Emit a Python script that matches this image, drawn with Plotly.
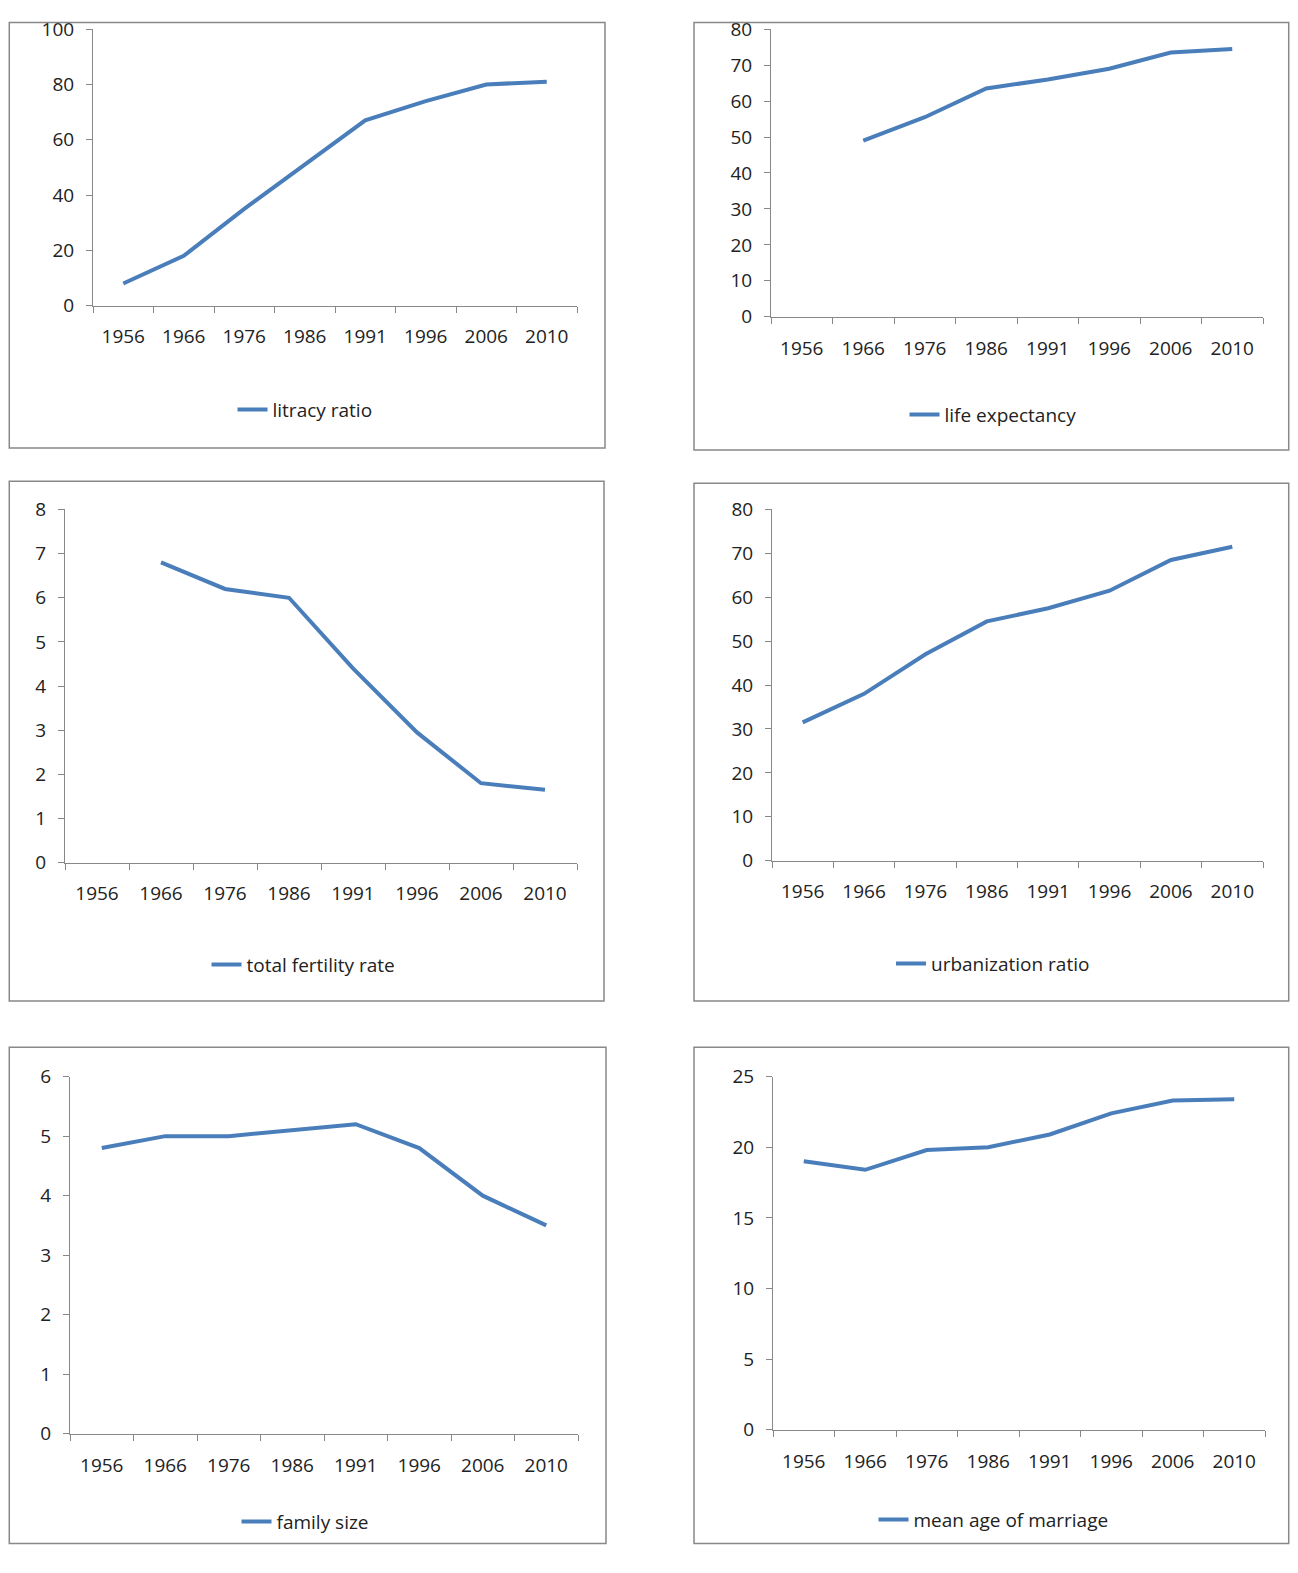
import plotly.graph_objs as go

years = ["1956", "1966", "1976", "1986", "1991", "1996", "2006", "2010"]

litracy = [8, 18, 35, 51, 67, 74, 80, 81]
life_exp = [None, 49, 55.5, 63.5, 66, 69, 73.5, 74.5]
fertility = [None, 6.8, 6.2, 6.0, 4.4, 2.95, 1.8, 1.65]
urban = [31.5, 38, 47, 54.5, 57.5, 61.5, 68.5, 71.5]
family = [4.8, 5.0, 5.0, 5.1, 5.2, 4.8, 4.0, 3.5]
marriage = [19, 18.4, 19.8, 20, 20.9, 22.4, 23.3, 23.4]

names = ["litracy ratio", "life expectancy", "total fertility rate",
         "urbanization ratio", "family size", "mean age of marriage"]
series = [litracy, life_exp, fertility, urban, family, marriage]
ymax = [100, 80, 8, 80, 6, 25]
ydtick = [20, 10, 1, 10, 1, 5]

OFF = 8
W, H = 1282, 1550


def fx(p):
    return (p - OFF) / W


def fy(p):
    # compensate for the vertical offset/squash seen in the rendered page
    p = 5 + (p - 22) / 0.97
    return 1 - (p - OFF) / 1557


# plot areas in pixels: x0, x1, ytop, ybottom
areas = [(93, 577, 33, 307), (771, 1263, 33, 318),
         (65, 577, 509, 859), (772, 1263, 509, 857),
         (70, 578, 1071, 1425), (773, 1265, 1071, 1421)]
boxes = [(5, 605, 5, 448), (694, 1292, 5, 450),
         (3, 604, 481, 996), (694, 1292, 483, 996),
         (5, 606, 1042, 1568), (694, 1293, 1042, 1568)]
legend_y = [410, 415, 960, 959, 1512, 1510]

color = "#4a7ebb"
font = dict(family="Open Sans", size=19, color="#222")

fig = go.Figure()
layout = dict(width=W, height=H, margin=dict(l=0, r=0, t=0, b=0),
              plot_bgcolor="white", paper_bgcolor="white", font=font,
              showlegend=True, shapes=[])

for i in range(6):
    n = "" if i == 0 else str(i + 1)
    lg = "legend" if i == 0 else "legend" + str(i + 1)
    fig.add_trace(go.Scatter(x=years, y=series[i], mode="lines", name=names[i],
                             line=dict(color=color, width=4),
                             xaxis="x" + n, yaxis="y" + n, legend=lg,
                             showlegend=True))
    x0, x1, yt, yb = areas[i]
    layout["xaxis" + n] = dict(domain=[fx(x0), fx(x1)], anchor="y" + n,
                               type="category", range=[-0.5, 7.5],
                               tickson="boundaries", ticks="outside", ticklen=6,
                               tickcolor="#888", showline=True, linecolor="#888",
                               showgrid=False, ticklabelstandoff=14)
    layout["yaxis" + n] = dict(domain=[fy(yb), fy(yt)], anchor="x" + n,
                               range=[0, ymax[i]], dtick=ydtick[i],
                               ticks="outside", ticklen=6, tickcolor="#888",
                               showline=True, linecolor="#888", showgrid=False,
                               zeroline=False, ticklabelstandoff=8)
    cx = (boxes[i][0] + boxes[i][1]) / 2
    layout[lg] = dict(x=fx(cx), y=fy(legend_y[i]), xanchor="center",
                      yanchor="middle", orientation="h", font=font,
                      bgcolor="rgba(0,0,0,0)")
    bx0, bx1, by0, by1 = boxes[i]
    layout["shapes"].append(dict(type="rect", xref="paper", yref="paper",
                                 x0=max(fx(bx0), 0.001), x1=min(fx(bx1), 0.999),
                                 y0=max(fy(by1), 0.001), y1=min(fy(by0), 0.999),
                                 line=dict(color="#888", width=1.5)))

fig.update_layout(**layout)
fig.write_html("out.html")
